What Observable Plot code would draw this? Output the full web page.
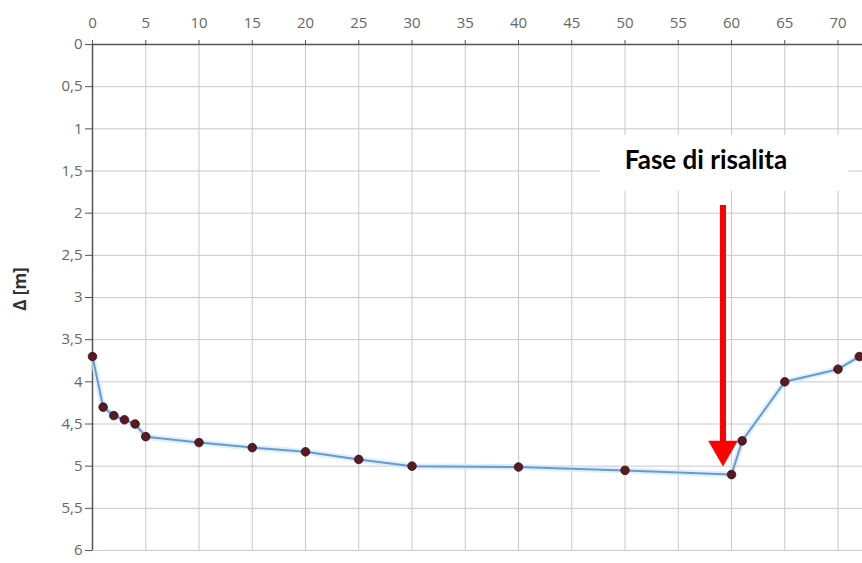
<!DOCTYPE html>
<html>
<head>
<meta charset="utf-8">
<script src="https://cdn.jsdelivr.net/npm/d3@7"></script>
<script src="https://cdn.jsdelivr.net/npm/@observablehq/plot@0.6"></script>
<style>
  body { margin: 0; background: #fff; }
  #chart svg { display: block; }
</style>
</head>
<body>
<div id="chart"></div>
<script>
const timeValues = [0, 1, 2, 3, 4, 5, 10, 15, 20, 25, 30, 40, 50, 60, 61, 65, 70, 72];
const deltaValues = [3.7, 4.3, 4.4, 4.45, 4.5, 4.65, 4.72, 4.78, 4.83, 4.92, 5.0, 5.01, 5.05, 5.1, 4.7, 4.0, 3.85, 3.7];
const xTicks = [0, 5, 10, 15, 20, 25, 30, 35, 40, 45, 50, 55, 60, 65, 70];
const yTicks = [0, 0.5, 1, 1.5, 2, 2.5, 3, 3.5, 4, 4.5, 5, 5.5, 6];
const annotationText = ["Fase di risalita"];
const arrowX = [59.2];
const arrowFrom = [1.91];
const arrowTo = [4.92];
const yLabel = ["Δ [m]"];

const data = timeValues.map((t, i) => ({t, d: deltaValues[i]}));
const fmt = d => String(d).replace(".", ",");

const chart = Plot.plot({
  width: 862,
  height: 563,
  marginLeft: 92,
  marginRight: 0,
  marginTop: 44,
  marginBottom: 13,
  style: {fontFamily: "'Open Sans', sans-serif", fontSize: "15px", color: "#666"},
  x: {domain: [0, 72.3], axis: null},
  y: {domain: [0, 6], reverse: true, axis: null},
  marks: [
    Plot.gridX(xTicks, {stroke: "#c8c8c8", strokeOpacity: 1, strokeWidth: 1}),
    Plot.gridY(yTicks, {stroke: "#c8c8c8", strokeOpacity: 1, strokeWidth: 1}),
    Plot.axisX(xTicks, {anchor: "top", tickFormat: fmt, tickSize: 5, tickPadding: 12, stroke: "#555", fill: "#666", fontSize: 15, label: null}),
    Plot.axisY(yTicks, {anchor: "left", tickFormat: fmt, tickSize: 7, tickPadding: 3, stroke: "#555", fill: "#666", fontSize: 15, label: null}),
    Plot.ruleY([0], {stroke: "#555", strokeWidth: 1.5}),
    Plot.ruleX([0], {stroke: "#555", strokeWidth: 1.5}),
    Plot.line(data, {x: "t", y: "d", stroke: "#cfe9ff", strokeWidth: 6, strokeOpacity: 0.7}),
    Plot.line(data, {x: "t", y: "d", stroke: "#6a9acb", strokeWidth: 2}),
    Plot.dot(data, {x: "t", y: "d", r: 4.3, fill: "#5a1a22", stroke: "#3a0f14", strokeWidth: 0.8}),
    Plot.rect([0], {x1: 47.7, x2: 71, y1: 1.08, y2: 1.74, fill: "white"}),
    Plot.text(annotationText, {x: 57.6, y: 1.38, text: d => d, fontSize: 26, fontWeight: "bold", fill: "#000", fontFamily: "Lato, 'Open Sans', sans-serif"}),
    Plot.ruleX(arrowX, {x: d => d, y1: (d, i) => arrowFrom[i], y2: (d, i) => arrowTo[i] - 0.2, stroke: "#ff0000", strokeWidth: 6}),
    Plot.dot(arrowX, {x: d => d, y: (d, i) => arrowTo[i] - 0.12, symbol: "triangle", rotate: 180, r: 11, fill: "#ff0000"}),
    Plot.text(yLabel, {x: 0, y: 2.9, text: d => d, dx: -72, rotate: -90, fontWeight: "bold", fontSize: 17, fill: "#333"})
  ]
});
document.getElementById("chart").append(chart);
</script>
</body>
</html>
